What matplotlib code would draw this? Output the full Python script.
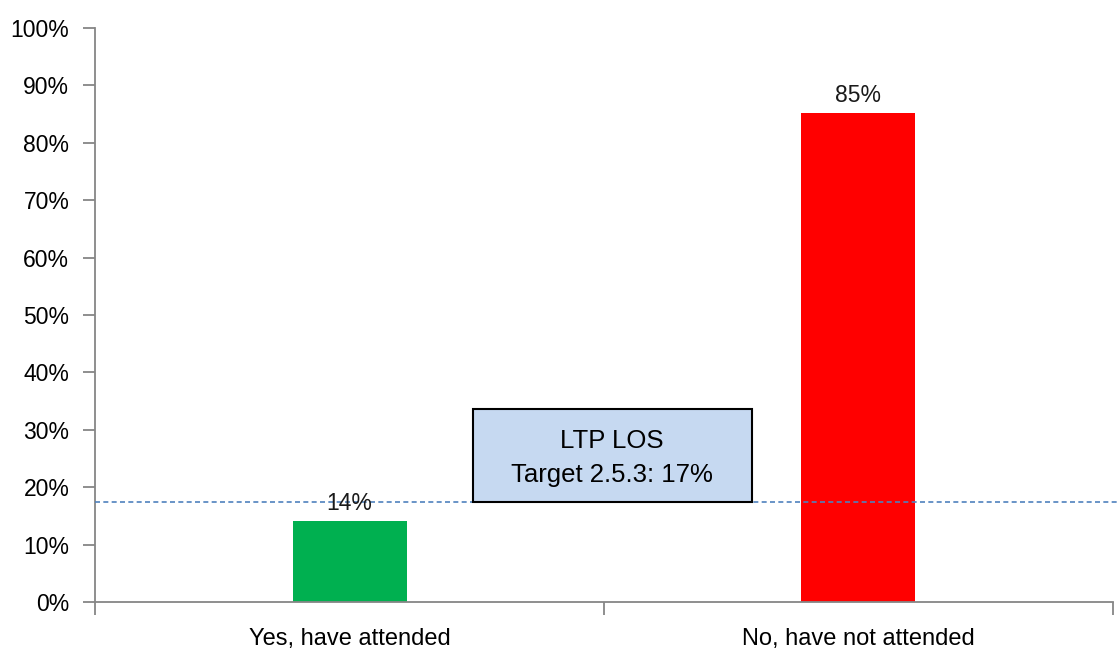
import matplotlib.pyplot as plt
from matplotlib.patches import Rectangle

categories = ["Yes, have attended", "No, have not attended"]
values = [14.1, 85.2]
labels = ["14%", "85%"]
bar_colors = ["#00B050", "#FF0000"]
target = 17.5
target_text = "LTP LOS\nTarget 2.5.3: 17%"

plt.rcParams['font.family'] = ['Liberation Sans', 'DejaVu Sans']

fig = plt.figure(figsize=(11.18, 6.48), dpi=100)
ax = fig.add_axes([0.085, 0.071, 0.9105, 0.886])

x = range(len(categories))
ax.bar(x, values, width=0.224, color=bar_colors, zorder=2)
for xi, v, lab in zip(x, values, labels):
    ax.text(xi, v + 1.0, lab, ha='center', va='bottom', fontsize=16.5, color='#1a1a1a', zorder=5)

# target line + callout box
ax.axhline(target, color='#4F81BD', linestyle=(0, (3, 2)), linewidth=1.2, zorder=3, clip_on=False,
           xmin=0, xmax=1.01)
box = Rectangle((0.242, target), 0.548, 16.1, facecolor='#C6D9F1', edgecolor='black', linewidth=1.5, zorder=4)
ax.add_patch(box)
ax.text(0.516, target + 7.6, target_text, ha='center', va='center', fontsize=18.5,
        linespacing=1.5, zorder=5)

ax.set_xlim(-0.5, 1.5)
ax.set_ylim(0, 100)
ax.set_yticks(range(0, 101, 10))
ax.set_yticklabels([f"{t}%" for t in range(0, 101, 10)], fontsize=16.5)
ax.set_xticks(list(x))
ax.set_xticklabels(categories, fontsize=17)
ax.set_xticks([-0.5, 0.5, 1.5], minor=True)
ax.tick_params(axis='x', which='major', length=0, pad=18.5)
ax.tick_params(axis='x', which='minor', length=9, color='#868686', width=1.3)
ax.tick_params(axis='y', length=9, color='#868686', width=1.3, pad=9.5)

for s in ['top', 'right']:
    ax.spines[s].set_visible(False)
for s in ['left', 'bottom']:
    ax.spines[s].set_color('#868686')
    ax.spines[s].set_linewidth(1.3)

fig.savefig('out.png', dpi=100)
